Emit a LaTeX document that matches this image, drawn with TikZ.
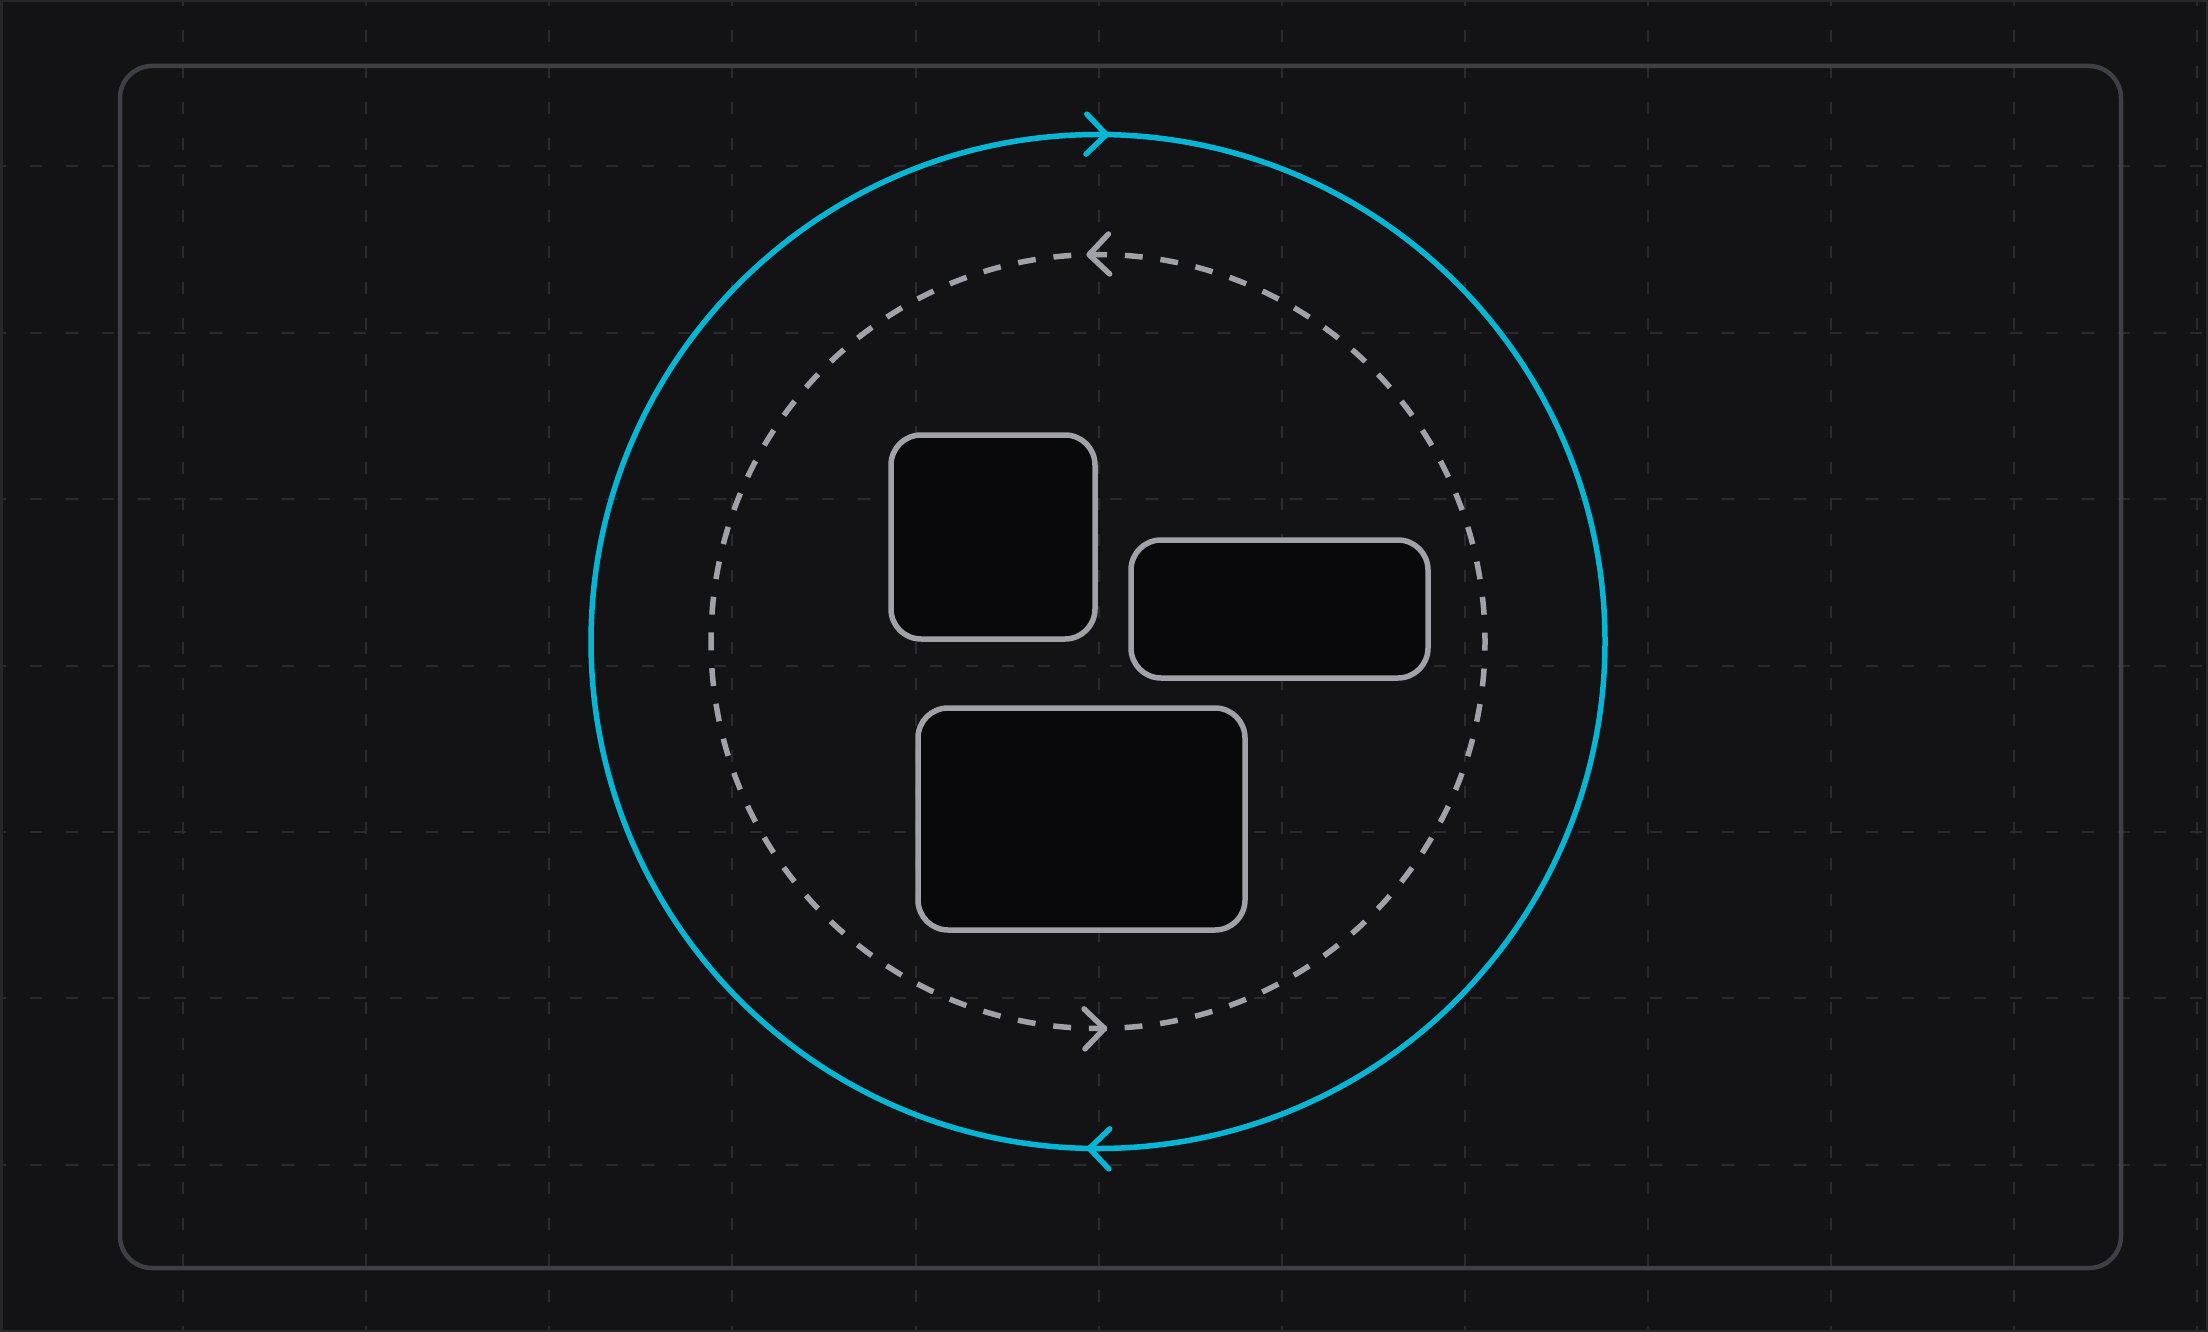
\documentclass[tikz,border=0pt]{standalone}
\usetikzlibrary{arrows.meta,decorations.markings}

\definecolor{canvasbg}{HTML}{131316}
\definecolor{gridline}{HTML}{2A2A2E}
\definecolor{edgegray}{HTML}{27272A}
\definecolor{framegray}{HTML}{3F3F46}
\definecolor{loopcyan}{HTML}{06B6D4}
\definecolor{loopgray}{HTML}{A1A1AA}
\definecolor{cardfill}{HTML}{09090B}

\begin{document}
\begin{tikzpicture}[
			x=1pt, y=-1pt,
			gridrule/.style={draw=gridline, line width=2pt, dash pattern=on 12pt off 24pt, dash phase=6pt},
			card/.style={rectangle, draw=loopgray, fill=cardfill, line width=5.5pt, rounded corners=30pt, inner sep=0pt},
			flowtip/.tip={Straight Barb[length=20pt, width=40pt, round]}
	]
	
		\fill[canvasbg] (0,0) rectangle (2208,1332);
		\useasboundingbox (0,0) rectangle (2208,1332);
		
		\foreach \k in {1,...,12} \draw[gridrule] (183.1*\k,0) -- (183.1*\k,1332);
		\foreach \k in {1,...,7} \draw[gridrule] (0,166.4*\k) -- (2208,166.4*\k);
		
		\draw[edgegray, line width=2.5pt] (1.25,1.25) rectangle (2206.75,1330.75);
		\draw[framegray, line width=4.5pt, rounded corners=32pt] (120,66) rectangle (2121,1268);
		
		\coordinate (hub) at (1098,641.5);
		
		\draw[loopcyan, line width=5.5pt, postaction={decorate},
			decoration={markings,
				mark=at position 0.2536 with {\arrow{flowtip}},
				mark=at position 0.7535 with {\arrow{flowtip}}}]
			(hub) circle[radius=507];
		\draw[loopgray, line width=5.5pt, dash pattern=on 17.88pt off 17.88pt, dash phase=8.94pt, postaction={decorate},
			decoration={markings,
				mark=at position 0.2548 with {\arrow{flowtip}},
				mark=at position 0.7538 with {\arrow{flowtip}}}]
			(hub) ++(387,0) arc[start angle=0, end angle=-360, radius=387];
		
		\node (cardA) [card, minimum width=204pt, minimum height=204pt] at (993,537) {};
		\node (cardB) [card, minimum width=297pt, minimum height=138pt] at (1279.5,609) {};
		\node (cardC) [card, minimum width=327pt, minimum height=222pt] at (1081.5,819) {};
	\end{tikzpicture}
\end{document}
